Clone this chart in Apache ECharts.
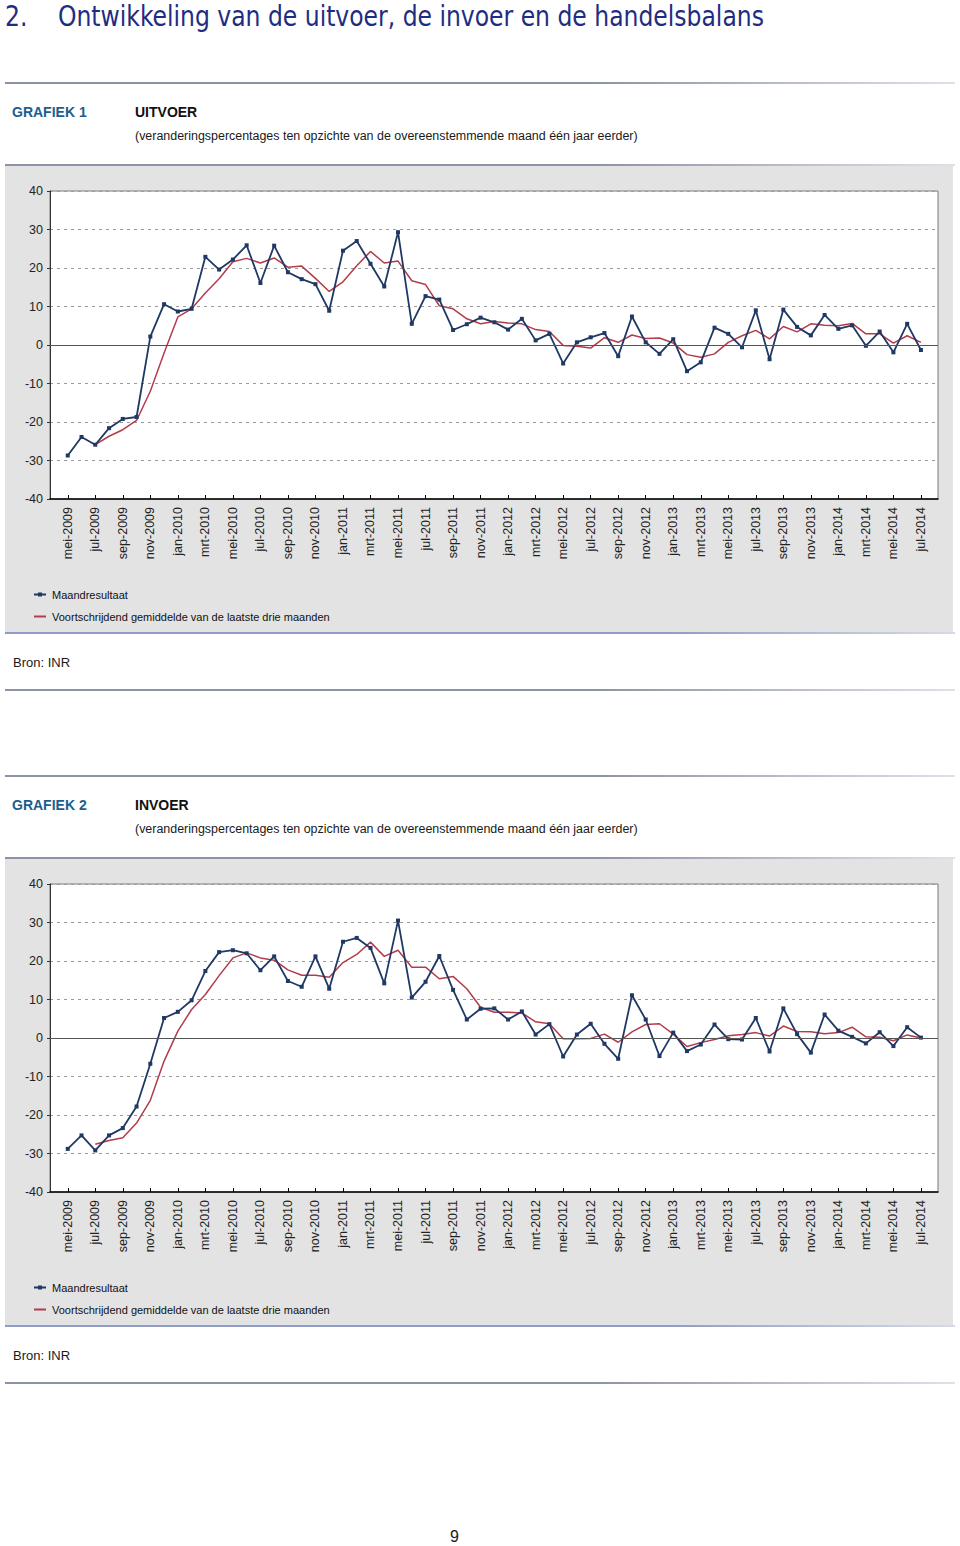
<!DOCTYPE html>
<html>
<head>
<meta charset="utf-8">
<script src="https://cdn.jsdelivr.net/npm/echarts@6/dist/echarts.min.js"></script>
<style>
  html, body { margin:0; padding:0; background:#fff; }
  body { width:960px; height:1546px; position:relative; font-family:"Liberation Sans", Arial, Helvetica, sans-serif; color:#1a1a1a; overflow:hidden; }
  .abs { position:absolute; white-space:nowrap; }
  .title { top:-2px; font-family:"DejaVu Sans Condensed","Liberation Sans",Arial,sans-serif; font-size:29px; color:#1e2d82; line-height:36px; transform-origin:0 50%; transform:scaleX(0.9); }
  .rule { position:absolute; left:5px; width:950px; height:2px; background:linear-gradient(to right,#8d93a6 0%,#8d93a6 62%,#dde1e8 100%); }
  .graf { font-size:14px; font-weight:bold; color:#1b5e8e; line-height:16px; }
  .head { font-size:14px; font-weight:bold; color:#111; line-height:16px; }
  .sub { font-size:12.45px; color:#1a1a1a; line-height:14px; }
  .bron { font-size:13px; color:#1a1a1a; line-height:15px; }
  .panel { position:absolute; left:5px; width:948px; height:467px; }
  .pline { position:absolute; left:5px; width:950px; height:2px; background:linear-gradient(to right,#8f9cc6 0%,#8f9cc6 70%,#d6dae6 100%); }
</style>
</head>
<body>
<div class="abs title" style="left:5px;">2.</div>
<div class="abs title" style="left:58px;">Ontwikkeling van de uitvoer, de invoer en de handelsbalans</div>

<div class="rule" style="top:82px;"></div>
<div class="abs graf" style="left:12px;top:104px;">GRAFIEK 1</div>
<div class="abs head" style="left:135px;top:104px;">UITVOER</div>
<div class="abs sub" style="left:135px;top:129px;">(veranderingspercentages ten opzichte van de overeenstemmende maand één jaar eerder)</div>
<div class="rule" style="top:164px;"></div>
<div id="c1" class="panel" style="top:166px;"></div>
<div class="pline" style="top:632px;"></div>
<div class="abs bron" style="left:13px;top:655px;">Bron: INR</div>
<div class="rule" style="top:689px;"></div>

<div class="rule" style="top:775px;"></div>
<div class="abs graf" style="left:12px;top:797px;">GRAFIEK 2</div>
<div class="abs head" style="left:135px;top:797px;">INVOER</div>
<div class="abs sub" style="left:135px;top:822px;">(veranderingspercentages ten opzichte van de overeenstemmende maand één jaar eerder)</div>
<div class="rule" style="top:857px;"></div>
<div id="c2" class="panel" style="top:859px;"></div>
<div class="pline" style="top:1325px;"></div>
<div class="abs bron" style="left:13px;top:1348px;">Bron: INR</div>
<div class="rule" style="top:1382px;"></div>

<div class="abs" style="left:450px;top:1528px;font-size:16px;">9</div>

<script>
const months = [
  'mei-2009','jun-2009','jul-2009','aug-2009','sep-2009','okt-2009','nov-2009','dec-2009',
  'jan-2010','feb-2010','mrt-2010','apr-2010','mei-2010','jun-2010','jul-2010','aug-2010','sep-2010','okt-2010','nov-2010','dec-2010',
  'jan-2011','feb-2011','mrt-2011','apr-2011','mei-2011','jun-2011','jul-2011','aug-2011','sep-2011','okt-2011','nov-2011','dec-2011',
  'jan-2012','feb-2012','mrt-2012','apr-2012','mei-2012','jun-2012','jul-2012','aug-2012','sep-2012','okt-2012','nov-2012','dec-2012',
  'jan-2013','feb-2013','mrt-2013','apr-2013','mei-2013','jun-2013','jul-2013','aug-2013','sep-2013','okt-2013','nov-2013','dec-2013',
  'jan-2014','feb-2014','mrt-2014','apr-2014','mei-2014','jun-2014','jul-2014'
];
const yTicks = [-40,-30,-20,-10,0,10,20,30,40];

const uitvoerMaand = [
  -28.7,-23.9,-25.9,-21.6,-19.2,-18.7,2.2,10.6,
  8.7,9.4,22.9,19.6,22.2,25.9,16.1,25.8,18.9,17.1,15.8,8.9,
  24.5,27.0,21.1,15.2,29.3,5.5,12.7,11.8,3.9,5.4,7.1,5.9,
  4.0,6.8,1.2,2.9,-4.8,0.7,2.0,3.1,-2.9,7.4,0.7,-2.3,
  1.5,-6.8,-4.5,4.5,2.9,-0.6,9.0,-3.7,9.2,4.7,2.5,7.8,
  4.2,5.1,-0.2,3.5,-1.9,5.5,-1.3
];
const uitvoerGem = [
  null,null,-25.9,-23.7,-22.0,-19.6,-12.0,-2.1,
  7.3,9.4,13.5,17.2,21.6,22.5,21.3,22.6,20.2,20.5,17.3,13.9,
  16.4,20.6,24.3,21.3,21.8,16.7,15.7,10.2,9.4,6.8,5.5,6.1,
  5.7,5.5,4.0,3.5,-0.1,-0.3,-0.8,1.9,0.7,2.6,1.7,1.8,
  0.5,-2.5,-3.2,-2.3,0.7,2.4,3.8,1.6,4.8,3.4,5.5,5.1,
  5.0,5.6,2.9,2.9,0.5,2.4,0.7
];
const invoerMaand = [
  -28.8,-25.3,-29.2,-25.3,-23.4,-17.8,-6.7,5.2,
  6.8,9.8,17.4,22.3,22.8,22.0,17.6,21.2,14.8,13.3,21.2,12.8,
  25.0,26.0,23.4,14.2,30.5,10.5,14.6,21.3,12.5,4.8,7.6,7.7,
  4.8,6.9,0.9,3.6,-4.8,0.9,3.7,-1.5,-5.4,11.1,4.8,-4.7,
  1.4,-3.4,-1.7,3.5,-0.3,-0.4,5.2,-3.5,7.7,1.0,-3.8,6.1,
  1.9,0.3,-1.4,1.5,-2.1,2.8,0.1
];
const invoerGem = [
  null,null,-27.6,-26.6,-25.9,-22.1,-16.2,-6.0,
  1.8,7.4,11.3,16.2,20.8,22.1,20.8,20.2,17.7,16.3,16.3,15.8,
  19.6,21.7,24.9,21.2,22.8,18.4,18.4,15.4,16.0,12.8,8.0,6.7,
  6.7,6.5,4.2,3.7,-0.2,-0.2,-0.1,1.0,-1.1,1.6,3.5,3.7,
  1.0,-2.2,-1.2,-0.4,0.6,0.9,1.4,0.5,3.1,1.7,1.6,1.1,
  1.4,2.8,0.3,0.2,-0.7,0.8,0.0
];
const seriesNames = ['Maandresultaat','Voortschrijdend gemiddelde van de laatste drie maanden'];

const labelIdx = months.map((m,i)=>i).filter(i=>i%2===0);
const pairs = arr => arr.map((v,i)=>[i,v]);

function makeOption(maand, gem) {
  return {
    animation:false,
    backgroundColor:'#e3e3e3',
    textStyle:{fontFamily:'"Liberation Sans", Arial, sans-serif'},
    grid:{left:45,right:15,top:25,height:308,show:true,backgroundColor:'#fff',borderColor:'#7a7a7a',borderWidth:1},
    legend:{
      orient:'vertical',left:23,top:418,itemGap:11,itemWidth:12,itemHeight:5,
      textStyle:{fontSize:11,color:'#111',padding:[0,0,0,1]},
      data:[
        {name:seriesNames[0]},
        {name:seriesNames[1],itemStyle:{opacity:0}}
      ]
    },
    xAxis:{
      type:'value',min:-1.29,max:63.24,
      splitLine:{show:false},
      axisLine:{show:true,onZero:false,lineStyle:{color:'#000',width:1.5}},
      axisTick:{show:true,inside:true,length:4,customValues:labelIdx,lineStyle:{color:'#000'}},
      axisLabel:{show:true,customValues:labelIdx,rotate:90,margin:8,fontSize:12.5,color:'#222',
        formatter:v=>months[Math.round(v)]}
    },
    yAxis:{
      type:'value',min:-40,max:40,interval:10,
      axisLine:{show:true,onZero:false,lineStyle:{color:'#333',width:1}},
      axisTick:{show:true,length:3,lineStyle:{color:'#333'}},
      axisLabel:{fontSize:12.5,color:'#222',margin:7,
        formatter:v=>yTicks.includes(v)?String(v):''},
      splitLine:{show:true,lineStyle:{type:[3,4],color:'#9a9a9a',width:1}}
    },
    series:[
      {
        name:seriesNames[0],type:'line',data:pairs(maand),
        color:'#1f3864',symbol:'rect',symbolSize:4,showSymbol:true,
        lineStyle:{width:1.8,color:'#1f3864'},itemStyle:{color:'#1f3864'},z:3
      },
      {
        name:seriesNames[1],type:'line',data:pairs(gem),
        color:'#b23c4b',symbol:'none',connectNulls:false,
        lineStyle:{width:1.5,color:'#b23c4b'},z:2,
        markLine:{silent:true,symbol:'none',label:{show:false},
          lineStyle:{type:'solid',color:'#555',width:1},
          data:[{yAxis:0}]}
      }
    ]
  };
}

const c1 = echarts.init(document.getElementById('c1'),null,{renderer:'svg'});
c1.setOption(makeOption(uitvoerMaand,uitvoerGem));
const c2 = echarts.init(document.getElementById('c2'),null,{renderer:'svg'});
c2.setOption(makeOption(invoerMaand,invoerGem));
</script>
</body>
</html>
